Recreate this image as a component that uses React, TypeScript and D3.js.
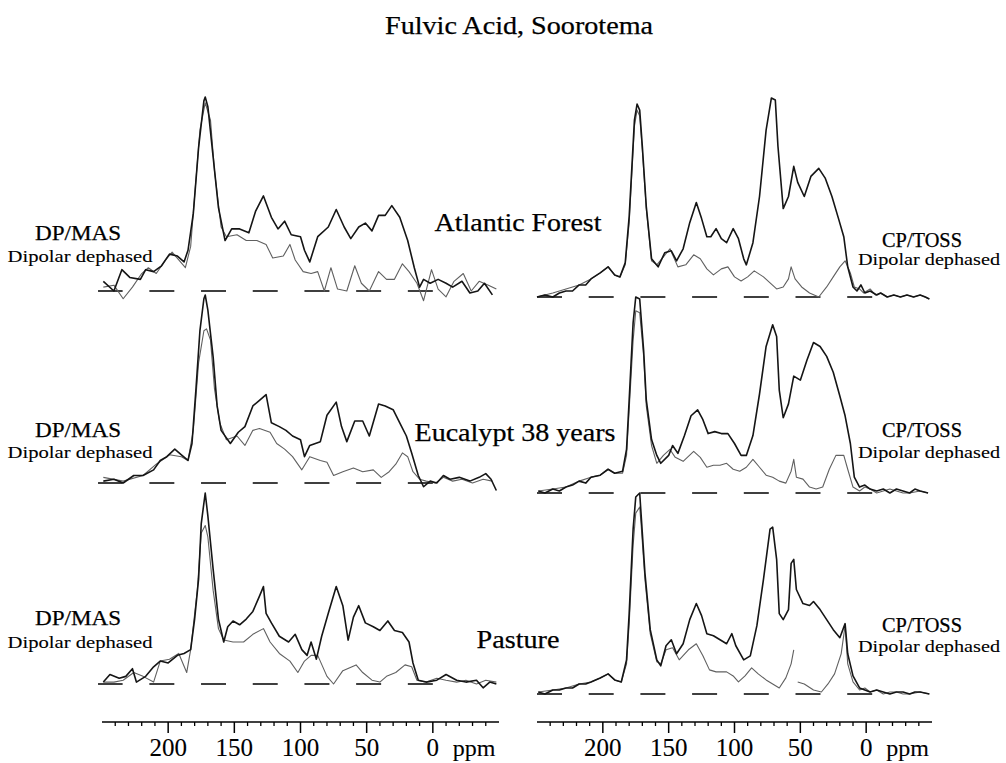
import * as d3 from 'd3'

type Pt = [number, number] | null   // [ppm, relative intensity], null = gap

// ── spectra (intensity: tallest peak of a panel = 100) ──
const afMasFull: Pt[] = [[249,5],[241,0],[235,11],[229,7],[221,6],[217,11],[211,10],[205,13],[199,19],[193,18],[188,15],[185,21],[181,40],[177,74],[173,98],[172,100],[170,95],[166,69],[162,43],[157,26],[152,32],[146,32],[139,30],[134,41],[128,49],[122,38],[117,32],[112,36],[107,29],[100,28],[97,21],[93,15],[87,28],[79,33],[73,42],[67,33],[62,27],[56,33],[51,35],[46,31],[41,39],[36,39],[31,44],[25,38],[19,26],[14,12],[10,2],[7,6],[2,4],[-4,6],[-10,4],[-15,2],[-22,5],[-28,-1],[-34,0],[-39,4],[-45,-2]]
const afMasDd: Pt[] = [[249,2],[241,3],[234,-4],[227,2],[220,9],[215,12],[209,9],[202,16],[197,20],[192,16],[187,12],[183,23],[180,49],[176,83],[172,97],[168,88],[165,62],[160,33],[156,28],[148,29],[141,26],[133,26],[126,24],[121,17],[113,18],[108,24],[104,16],[98,10],[92,9],[87,10],[82,0],[77,12],[72,1],[65,0],[59,13],[54,4],[48,0],[41,10],[35,6],[29,6],[23,14],[18,10],[12,4],[7,-5],[1,11],[-4,1],[-10,-3],[-16,5],[-23,9],[-29,0],[-35,5],[-42,3],[-48,1]]

const euMasFull: Pt[] = [[249,1],[241,2],[234,0],[226,4],[219,4],[211,7],[206,12],[201,14],[195,18],[190,15],[185,12],[182,21],[179,50],[176,81],[173,98],[172,100],[170,92],[166,67],[163,41],[160,28],[153,21],[147,27],[142,30],[136,41],[131,44],[126,47],[122,32],[116,30],[111,28],[106,25],[100,23],[97,14],[93,20],[85,22],[80,36],[73,43],[69,30],[65,22],[59,33],[53,33],[48,25],[41,42],[36,41],[30,39],[25,32],[20,25],[16,16],[11,4],[7,-2],[2,1],[-3,0],[-8,4],[-13,2],[-20,3],[-28,1],[-35,3],[-40,5],[-44,2],[-48,-4]]
const euMasDd: Pt[] = [[249,3],[234,1],[219,4],[209,10],[199,15],[190,14],[185,12],[181,28],[177,64],[173,81],[171,82],[168,76],[165,50],[161,32],[156,23],[148,25],[142,20],[136,28],[131,29],[123,27],[118,21],[112,18],[106,14],[99,7],[93,14],[85,12],[80,11],[75,4],[68,6],[60,8],[53,6],[45,7],[39,3],[33,6],[28,10],[23,16],[19,14],[15,6],[10,2],[5,1],[-2,0],[-8,3],[-15,1],[-22,2],[-30,0],[-38,2],[-45,1]]

const paMasFull: Pt[] = [[249,1],[244,5],[237,3],[232,4],[227,8],[224,1],[217,4],[211,9],[206,12],[200,11],[193,15],[188,16],[183,18],[180,34],[177,55],[175,84],[172,100],[170,88],[166,60],[162,34],[158,22],[155,30],[151,33],[146,31],[141,34],[136,38],[131,46],[128,51],[126,37],[122,32],[116,25],[109,22],[104,26],[99,18],[95,15],[92,22],[88,13],[84,25],[79,37],[73,51],[68,41],[64,23],[60,35],[56,41],[51,32],[45,30],[40,28],[34,33],[29,28],[23,27],[18,22],[15,11],[11,2],[5,1],[-3,2],[-10,5],[-18,2],[-25,1],[-33,2],[-38,-2],[-43,1],[-48,0]]
const paMasDd: Pt[] = [[249,1],[241,1],[234,2],[226,6],[219,4],[211,1],[206,12],[199,13],[192,16],[186,6],[183,18],[178,49],[175,79],[172,83],[170,77],[166,49],[162,29],[158,23],[151,22],[143,22],[136,26],[128,29],[123,22],[116,16],[108,12],[102,6],[97,12],[92,15],[87,15],[80,4],[75,0],[68,7],[58,10],[53,6],[46,2],[40,1],[35,4],[28,6],[21,10],[16,9],[12,2],[5,1],[-3,3],[-10,2],[-18,1],[-25,2],[-33,0],[-40,2],[-48,1]]

const afTossFull: Pt[] = [[250,0],[244,1],[238,0],[233,2],[228,3],[223,3],[218,6],[213,6],[209,9],[202,12],[196,15],[191,11],[187,10],[183,17],[180,40],[176,88],[174,96],[172,93],[170,75],[167,45],[163,19],[158,15],[153,22],[148,23],[144,18],[139,24],[134,37],[129,47],[125,39],[121,30],[118,30],[114,34],[110,29],[106,27],[101,34],[97,29],[93,19],[91,16],[86,27],[81,50],[76,83],[72,99],[69,98],[67,75],[63,44],[59,50],[55,65],[52,57],[47,50],[42,60],[36,64],[31,59],[26,50],[21,39],[17,30],[14,15],[10,5],[7,3],[4,6],[1,2],[-3,3],[-8,1],[-11,2],[-16,0],[-21,1],[-26,0],[-31,1],[-36,0],[-41,1],[-45,0],[-48,-1]]
const afTossDd: Pt[] = [[250,0],[238,2],[228,4],[218,6],[209,9],[202,12],[196,15],[191,11],[187,10],[183,16],[180,37],[176,85],[174,93],[172,90],[170,73],[167,44],[163,18],[159,16],[154,20],[149,24],[143,15],[137,16],[131,21],[126,19],[121,14],[116,11],[110,14],[105,15],[100,10],[95,8],[90,10],[85,13],[78,10],[73,7],[68,4],[63,5],[59,9],[57,15],[54,9],[49,5],[43,2],[36,0],[30,5],[25,10],[20,15],[16,18],[12,12],[9,5],[5,4],[2,2],[-3,4],[-7,1],[-11,2],[-16,0],[-21,1],[-26,0],[-31,1],[-36,0],[-41,1],[-48,-1]]

const euTossFull: Pt[] = [[249,1],[244,0],[238,2],[233,1],[228,3],[223,4],[218,6],[213,5],[209,8],[202,9],[196,12],[191,10],[185,11],[182,22],[180,47],[177,86],[175,99],[172,98],[169,72],[167,47],[163,27],[159,19],[156,15],[150,19],[147,24],[143,20],[138,29],[133,39],[128,42],[124,37],[120,30],[115,31],[110,30],[105,30],[100,25],[95,19],[91,19],[86,29],[81,50],[76,74],[71,85],[68,79],[66,52],[63,38],[59,45],[55,59],[50,57],[45,67],[40,76],[35,74],[30,69],[25,61],[20,49],[16,39],[12,25],[9,8],[5,3],[1,4],[-3,2],[-8,1],[-13,2],[-18,0],[-23,2],[-28,1],[-33,0],[-37,2],[-41,1],[-47,0]]
const euTossDd: Pt[] = [[249,1],[238,2],[228,3],[218,6],[209,8],[202,9],[196,12],[191,10],[185,10],[182,19],[180,42],[177,77],[175,92],[172,91],[169,69],[167,44],[163,24],[159,15],[154,19],[149,22],[145,18],[139,16],[131,21],[126,18],[121,13],[116,14],[111,14],[106,15],[101,12],[96,11],[91,13],[86,17],[81,13],[76,9],[71,8],[66,6],[61,5],[57,11],[55,17],[53,8],[48,7],[43,3],[38,2],[33,3],[28,12],[23,19],[17,19],[14,12],[10,3],[5,1],[1,3],[-3,2],[-8,0],[-13,1],[-18,2],[-23,1],[-28,0],[-33,0],[-41,1],[-47,0]]

const paTossFull: Pt[] = [[249,1],[244,0],[238,2],[233,2],[228,3],[223,3],[218,5],[213,5],[209,6],[202,8],[196,10],[191,7],[186,6],[182,17],[180,40],[177,82],[175,98],[172,100],[171,90],[168,60],[164,32],[159,17],[156,14],[152,24],[148,27],[144,20],[139,25],[134,37],[129,45],[125,39],[121,30],[116,29],[111,27],[106,25],[102,30],[99,24],[93,17],[88,19],[83,34],[78,57],[73,82],[71,83],[68,67],[66,40],[63,37],[59,42],[57,65],[55,67],[53,52],[48,45],[43,44],[40,46],[35,42],[30,37],[25,32],[20,28],[16,35],[14,20],[10,9],[5,3],[1,2],[-3,1],[-8,2],[-13,1],[-18,0],[-23,1],[-28,1],[-33,0],[-37,1],[-41,1],[-48,0]]
const paTossDd: Pt[] = [[249,1],[238,2],[228,3],[218,5],[209,6],[202,8],[196,10],[191,7],[186,6],[182,15],[180,35],[177,74],[175,90],[172,93],[171,85],[168,57],[164,30],[159,16],[156,15],[152,22],[147,23],[142,17],[135,22],[129,25],[124,19],[119,12],[114,11],[106,11],[101,9],[97,6],[92,9],[87,13],[82,10],[76,7],[71,5],[66,3],[61,8],[57,15],[55,22],null,[52,6],[47,5],[40,2],[34,1],[29,5],[24,10],[19,20],[16,34],[14,15],[10,6],[5,2],[1,3],[-3,1],[-8,2],[-13,0],[-18,1],[-23,1],[-28,0],[-33,0],[-41,1],[-48,0]]

// ── labels & ticks ───────────────────────────────────────────────────────────
const TITLE       = 'Fulvic Acid, Soorotema'
const SAMPLES     = ['Atlantic Forest', 'Eucalypt 38 years', 'Pasture']
const METHODS     = ['DP/MAS', 'CP/TOSS']
const SUBLABEL    = 'Dipolar dephased'
const MAJOR_TICKS = [200, 150, 100, 50, 0]
const MINOR_TICKS = [240, 230, 220, 210, 190, 180, 170, 160, 140, 130, 120, 110, 90, 80, 70, 60, 40, 30, 20, 10, -10, -20, -30, -40]
const UNIT        = 'ppm'

const SPECTRA: [Pt[], Pt[]][][] = [
  [[afMasFull, afMasDd], [euMasFull, euMasDd], [paMasFull, paMasDd]],
  [[afTossFull, afTossDd], [euTossFull, euTossDd], [paTossFull, paTossDd]],
]

// ── layout ───────────────────────────────────────────────────────────────────
const FONT   = '"Liberation Serif", "Times New Roman", serif'
const DARK   = '#151515'
const GREY   = '#606060'
const AXIS_Y = 722
// slightly heavier glyphs, like the scanned figure
const TXT = { fontFamily: FONT, fill: '#000', stroke: '#000', strokeWidth: 0.25 }
const TXT_SM = { ...TXT, strokeWidth: 0.1 }

const COLS = [
  {
    x0: 102, x1: 499,
    base:   [291, 483, 684],
    height: [194, 188, 191],
    dashFrom: 0, dashTo: 253,
    method: { cx: 78, y: [240, 437, 625], w: 86 },
    sub:    { cx: 80, y: [262, 458, 648], w: 145 },
  },
  {
    x0: 537, x1: 932,
    base:   [297, 493, 694],
    height: [201, 198, 201],
    dashFrom: 250, dashTo: -12,
    method: { cx: 922, y: [247, 437, 632], w: 80 },
    sub:    { cx: 929, y: [265, 458, 652], w: 142 },
  },
]
const SAMPLE_POS = [
  { cx: 518, y: 231, w: 167 },
  { cx: 515, y: 441, w: 201 },
  { cx: 518, y: 648, w: 83 },
]

export default function App() {
  return (
    <div style={{ position: 'fixed', left: 0, top: 0 }}>
      <svg width={1006} height={763} viewBox="0 0 1006 763" style={{ display: 'block', background: '#fff' }}>
        <text x={519} y={34} textAnchor="middle" {...TXT} fontSize={26}
          textLength={268} lengthAdjust="spacingAndGlyphs">{TITLE}</text>

        {COLS.map((col, ci) => {
          const x = d3.scaleLinear().domain([250, -50]).range([col.x0, col.x1])
          return (
            <g key={ci}>
              {SPECTRA[ci].map(([full, dd], ri) => {
                const y = d3.scaleLinear().domain([0, 100]).range([col.base[ri], col.base[ri] - col.height[ri]])
                const line = d3.line<Pt>()
                  .defined(d => d !== null)
                  .x(d => x((d as [number, number])[0]))
                  .y(d => y((d as [number, number])[1]))
                return (
                  <g key={ri}>
                    <line x1={x(col.dashFrom)} x2={x(col.dashTo)} y1={y(0)} y2={y(0)}
                      stroke="#000" strokeWidth={1.5} strokeDasharray="25,26.7" />
                    <path d={line(dd) ?? ''} fill="none" stroke={GREY} strokeWidth={1.1} strokeLinejoin="round" />
                    <path d={line(full) ?? ''} fill="none" stroke={DARK} strokeWidth={1.6} strokeLinejoin="round" />
                    <text x={col.method.cx} y={col.method.y[ri]} textAnchor="middle" {...TXT}
                      fontSize={21} textLength={col.method.w} lengthAdjust="spacingAndGlyphs">{METHODS[ci]}</text>
                    <text x={col.sub.cx} y={col.sub.y[ri]} textAnchor="middle" {...TXT_SM}
                      fontSize={17} textLength={col.sub.w} lengthAdjust="spacingAndGlyphs">{SUBLABEL}</text>
                  </g>
                )
              })}

              {/* ppm axis */}
              <line x1={col.x0} x2={col.x1} y1={AXIS_Y} y2={AXIS_Y} stroke="#000" strokeWidth={1.6} />
              {MINOR_TICKS.map(t => (
                <line key={t} x1={x(t)} x2={x(t)} y1={AXIS_Y} y2={AXIS_Y + 4} stroke="#000" strokeWidth={1.3} />
              ))}
              {MAJOR_TICKS.map(t => (
                <g key={t}>
                  <line x1={x(t)} x2={x(t)} y1={AXIS_Y} y2={AXIS_Y + 11} stroke="#000" strokeWidth={1.5} />
                  <text x={x(t)} y={756} textAnchor="middle" {...TXT_SM} fontSize={25}>{t}</text>
                </g>
              ))}
              <text x={x(0) + 20} y={756} {...TXT_SM} fontSize={24}>{UNIT}</text>
            </g>
          )
        })}

        {SAMPLES.map((s, i) => (
          <text key={s} x={SAMPLE_POS[i].cx} y={SAMPLE_POS[i].y} textAnchor="middle" {...TXT}
            fontSize={26} textLength={SAMPLE_POS[i].w} lengthAdjust="spacingAndGlyphs">{s}</text>
        ))}
      </svg>
    </div>
  )
}
